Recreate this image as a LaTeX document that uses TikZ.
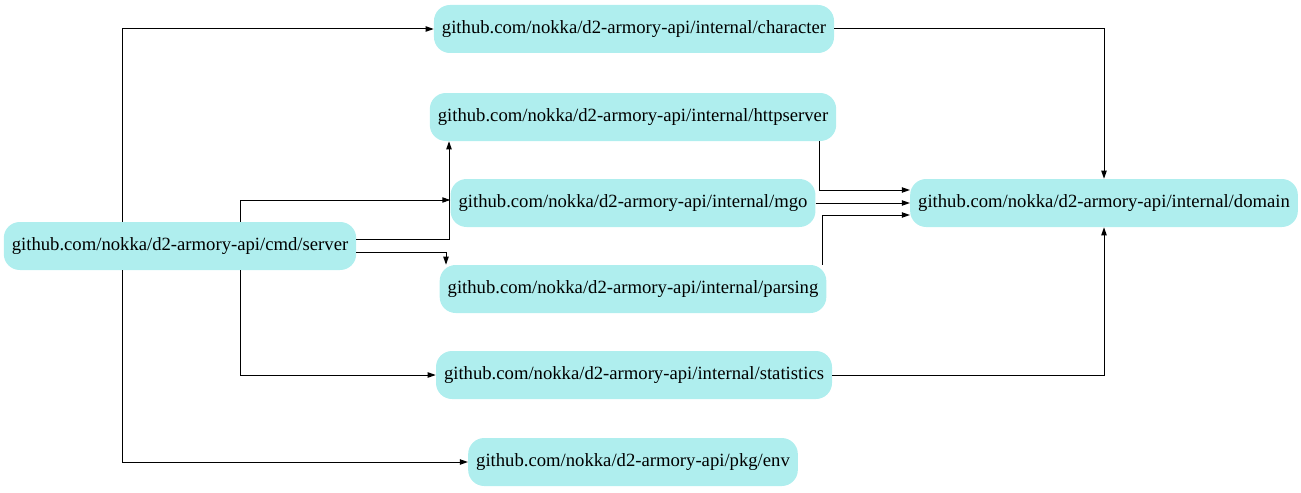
\documentclass[tikz,border=0pt]{standalone}
\usepackage{fontspec}
\setmainfont{Liberation Serif}
\usetikzlibrary{arrows.meta}
\definecolor{pkgfill}{HTML}{AFEEEE}

\begin{document}
\begin{tikzpicture}[x=0.75pt, y=-0.75pt, >={Triangle[length=6pt, width=4pt]},
  pkg/.style={fill=pkgfill, rounded corners=12pt, minimum height=36pt,
    inner xsep=6pt, font=\fontsize{14pt}{17pt}\selectfont},
  dep/.style={->, line width=0.75pt}]
  \useasboundingbox (0, 0) rectangle (1301, 492);
  % packages
  \node[pkg] (server) at (180, 246) {github.com/nokka/d2-armory-api/cmd/server};
  \node[pkg] (character) at (634, 29) {github.com/nokka/d2-armory-api/internal/character};
  \node[pkg] (httpserver) at (633, 117) {github.com/nokka/d2-armory-api/internal/httpserver};
  \node[pkg] (mgo) at (633, 203) {github.com/nokka/d2-armory-api/internal/mgo};
  \node[pkg] (parsing) at (633, 289) {github.com/nokka/d2-armory-api/internal/parsing};
  \node[pkg] (statistics) at (634, 375) {github.com/nokka/d2-armory-api/internal/statistics};
  \node[pkg] (env) at (633, 462) {github.com/nokka/d2-armory-api/pkg/env};
  \node[pkg] (domain) at (1104, 203) {github.com/nokka/d2-armory-api/internal/domain};
  % routing points
  \coordinate (outer) at (122, 0);
  \coordinate (inner) at (240, 0);
  \coordinate (toHttp) at (449, 239);
  \coordinate (toParse) at (446, 252);
  \coordinate (fromHttp) at (819, 190);
  \coordinate (fromParse) at (822, 215);
  % server imports
  \draw[dep] (server.north -| outer) |- (character.west);
  \draw[dep] (server.south -| outer) |- (env.west);
  \draw[dep] (server.north -| inner) |- ([yshift=2.25pt]mgo.west);
  \draw[dep] (server.south -| inner) |- (statistics.west);
  \draw[dep] (server.east |- toHttp) -| (httpserver.south -| toHttp);
  \draw[dep] (server.east |- toParse) -| (parsing.north -| toParse);
  % domain imports
  \draw[dep] (httpserver.south -| fromHttp) |- (domain.west |- fromHttp);
  \draw[dep] (mgo.east) -- (domain.west);
  \draw[dep] (parsing.north -| fromParse) |- (domain.west |- fromParse);
  \draw[dep] (character.east) -| (domain.north);
  \draw[dep] (statistics.east) -| (domain.south);
\end{tikzpicture}
\end{document}
